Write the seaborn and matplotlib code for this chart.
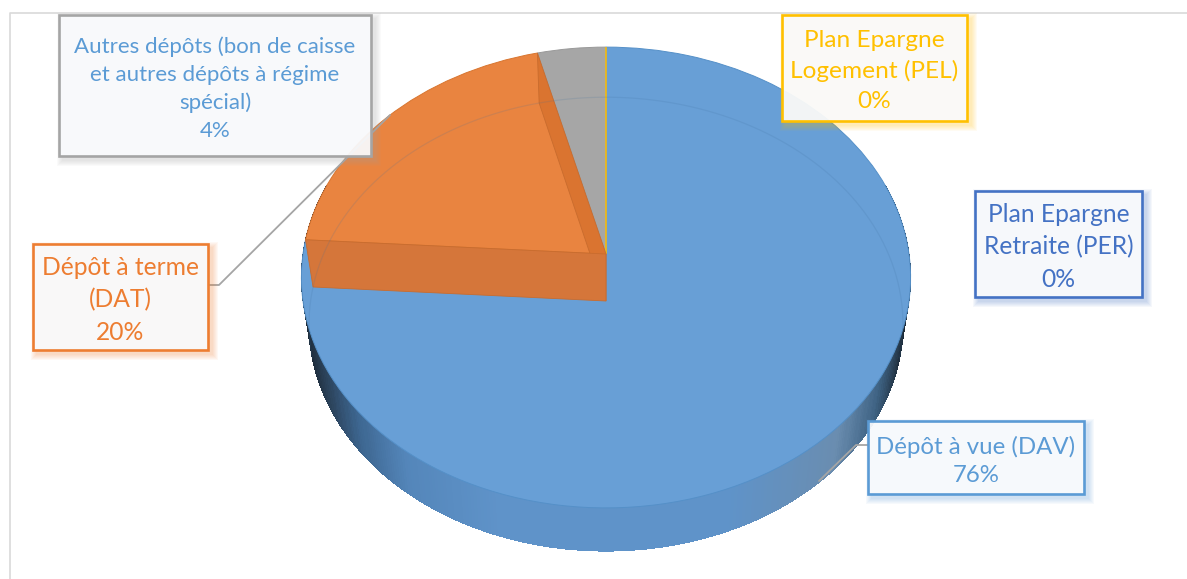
import numpy as np
import matplotlib
matplotlib.use("Agg")
import matplotlib.pyplot as plt
import matplotlib.transforms as mtransforms
from matplotlib.colors import LinearSegmentedColormap
from matplotlib.patches import Rectangle, Polygon
import seaborn as sns

# Deposit structure by product
categories = [
    "Dépôt à vue (DAV)",
    "Dépôt à terme\n(DAT)",
    "Autres dépôts (bon de caisse\net autres dépôts à régime\nspécial)",
    "Plan Epargne\nLogement (PEL)",
    "Plan Epargne\nRetraite (PER)",
]
shares = [76, 20, 4, 0, 0]
line_colors = ["#5B9BD5", "#ED7D31", "#A5A5A5", "#FFC000", "#4472C4"]
fill_colors = ["#689FD6", "#E98440", "#A6A6A6", "#FFC000", "#4472C4"]
text_colors = ["#5B9BD5", "#ED7D31", "#5B9BD5", "#FFC000", "#4472C4"]

# Callout frames: left, top, right, bottom in figure pixels
boxes = [
    (868, 421, 1084, 494),
    (33, 244, 208, 350),
    (59, 15, 371, 156),
    (782, 15, 967, 121),
    (975, 191, 1142, 297),
]
label_sizes = [17.3, 17.7, 16.0, 17.6, 17.7]
label_spacing = [1.41, 1.5, 1.47, 1.5, 1.5]

sns.set_theme(style="white")
plt.rcParams["font.family"] = ["Lato", "DejaVu Sans"]

CX, APEX_Y, AX_X, AX_Y, TILT, DROP = 606.0, 254.0, 303.0, 228.0, 0.102, 47.0


class DiscProjection(mtransforms.Transform):
    """Perspective view of the unit disc, optionally lowered and shrunk."""

    input_dims = 2
    output_dims = 2

    def __init__(self, drop=0.0, scale_x=1.0, scale_y=1.0):
        super().__init__()
        self.drop = drop
        self.scale_x = scale_x
        self.scale_y = scale_y

    def transform_non_affine(self, values):
        values = np.asarray(values, dtype=float)
        u, v = values[:, 0], values[:, 1]
        w = 1.0 + TILT * v
        return np.column_stack((
            CX + self.scale_x * AX_X * u / w,
            APEX_Y + self.drop - self.scale_y * AX_Y * v / w,
        ))


top = DiscProjection()
bottom = DiscProjection(DROP, 0.975, 0.985)


def rim(theta, proj=top):
    pts = np.column_stack((np.cos(theta), np.sin(theta)))
    return proj.transform_non_affine(pts)


fig = plt.figure(figsize=(11.87, 5.79), dpi=100)
ax = fig.add_axes([0, 0, 1, 1])

# Side wall of the cylinder, shaded along its width
wall_shade = LinearSegmentedColormap.from_list(
    "wall",
    [(0.0, "#1B2733"), (0.035, "#2A4057"), (0.09, "#3D6690"), (0.17, "#5486BA"), (0.32, "#5F93C9"),
     (0.70, "#5F93C9"), (0.88, "#6A8DB0"), (0.95, "#3E6283"), (1.0, "#1B2733")],
)
angles = np.linspace(np.pi * 0.9, np.pi * 2.1, 361)
upper, lower = rim(angles), rim(angles, bottom)
for i in range(len(angles) - 1):
    quad = [upper[i], upper[i + 1], lower[i + 1], lower[i]]
    shade = (lower[i][0] - CX) / (0.975 * 306) * 0.5 + 0.5
    ax.add_patch(Polygon(quad, closed=True, fc=wall_shade(np.clip(shade, 0, 1)),
                         ec="none", zorder=1, antialiased=False))

# Top face: one pie, clockwise from twelve o'clock, then projected
palette = sns.color_palette(fill_colors)
wedges, _ = ax.pie(shares, colors=palette, startangle=90, counterclock=False,
                   wedgeprops={"linewidth": 0.7})
for wedge, edge in zip(wedges, ["#5590C8", "#D8752F", "#999999", "#FFC000", "#FFC000"]):
    wedge.set_edgecolor(edge)
    wedge.set_transform(top + ax.transData)
    wedge.set_zorder(2)

# Cut faces of the DAT slice
bounds = 90 - np.cumsum(shares) / np.sum(shares) * 360
start, stop = np.radians(bounds[0]), np.radians(bounds[1])
apex_top = top.transform_non_affine(np.array([[0.0, 0.0]]))[0]
apex_low = bottom.transform_non_affine(np.array([[0.0, 0.0]]))[0]
for angle, face in ((stop, "#DA7430"), (start, "#D5763A")):
    edge_top = rim(np.array([angle]))[0]
    edge_low = rim(np.array([angle]), bottom)[0]
    ax.add_patch(Polygon([edge_top, edge_low, apex_low, apex_top], closed=True,
                         fc=face, ec="#C96C2E", lw=0.6, zorder=3))

# Far rim of the base, seen through the top face
base = rim(np.linspace(-0.25, np.pi + 0.25, 240), bottom)
ax.plot(base[:, 0], base[:, 1], color="#3F6F9E", alpha=0.16, lw=0.9, zorder=4)

# Outer frame of the chart area
ax.plot([10, 10, 1187], [579, 13, 13], color="#D9D9D9", lw=1.2, zorder=0)

# Leader lines
ax.plot([208, 219, 390], [285, 285, 115], color="#A5A5A5", lw=1.3, zorder=5)
ax.plot([868, 856, 819], [445, 445, 481], color="#A5A5A5", lw=1.3, zorder=5)

# Callouts
for name, share, (x0, y0, x1, y1), edge, ink, size, spacing in zip(
        categories, shares, boxes, line_colors, text_colors, label_sizes, label_spacing):
    for grow in range(6, 0, -1):
        ax.add_patch(Rectangle((x0 + 4 - grow, y0 + 4 - grow), x1 - x0 + 2 * grow,
                               y1 - y0 + 2 * grow, fc=edge, ec="none", alpha=0.05, zorder=6))
    ax.add_patch(Rectangle((x0, y0), x1 - x0, y1 - y0, fc="#FAFBFD", alpha=0.93,
                           ec="none", zorder=7))
    ax.add_patch(Rectangle((x0, y0), x1 - x0, y1 - y0, fc="none", ec=edge, lw=1.9, zorder=8))
    ax.text((x0 + x1) / 2, (y0 + y1) / 2 + 3, f"{name}\n{share}%", color=ink, fontsize=size,
            ha="center", va="center", linespacing=spacing, zorder=9)

ax.set_aspect("auto")
ax.set_xlim(0, 1187)
ax.set_ylim(579, 0)
ax.axis("off")

fig.savefig("out.png", dpi=100, facecolor="white")
